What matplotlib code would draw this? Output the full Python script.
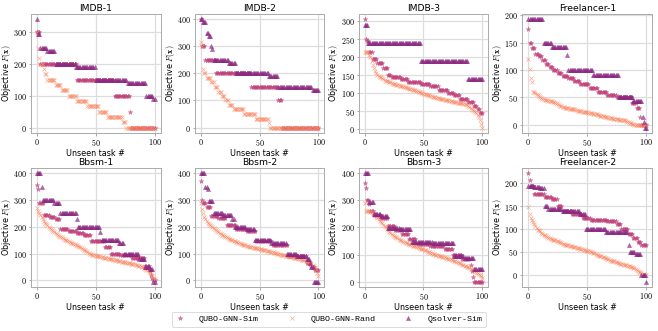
import numpy as np
import matplotlib
matplotlib.use("Agg")
import matplotlib.pyplot as plt
from matplotlib.ticker import FuncFormatter

plt.rcParams['mathtext.fontset'] = 'cm'
plt.rcParams['font.family'] = ['DejaVu Sans']

# runs are (value, how many tasks in a row); plain lists are one value per task
names = ['IMDB-1', 'IMDB-2', 'IMDB-3', 'Freelancer-1',
         'Bbsm-1', 'Bbsm-2', 'Bbsm-3', 'Freelancer-2']
labels = ['QUBO-GNN-Sim', 'QUBO-GNN-Rand', 'Qsolver-Sim']

imdb1_sim = [(300, 3), (200, 31), (150, 32), (100, 13), (50, 1), (0, 21)]
imdb1_rand = [(300, 1), (250, 1), (217, 1), (200, 3), (183, 1), (167, 2), (150, 7), (133, 5),
              (117, 6), (100, 7), (83, 9), (67, 10), (50, 7), (33, 13), (17, 3), (0, 25)]
imdb1_qsolver = [(340, 1), (295, 2), (250, 6), (240, 7), (200, 17), (190, 17), (150, 27),
                 (140, 16), (100, 6), (90, 2)]

imdb2_sim = [(400, 1), (300, 3), (250, 9), (200, 30), (150, 23), (100, 3), (0, 32)]
imdb2_rand = [(316, 1), (300, 1), (217, 1), (200, 2), (183, 4), (167, 3), (150, 3), (133, 3),
              (117, 3), (100, 3), (83, 4), (67, 9), (50, 10), (33, 11), (17, 1), (0, 42)]
imdb2_qsolver = [(400, 2), (390, 3), (350, 2), (340, 2), (300, 1), (290, 1), (250, 13),
                 (240, 6), (200, 28), (190, 8), (150, 29), (140, 6)]

imdb3_sim = [(305, 1), (250, 1), (245, 2), (215, 3), (195, 4), (185, 5), (170, 4), (150, 3),
             (145, 8), (140, 6), (130, 11), (125, 8), (120, 7), (110, 8), (100, 5), (95, 5),
             (85, 7), (75, 5), (65, 3), (55, 2), (45, 3)]
imdb3_rand = [215, 215, 214, 213, 205, 200, 190, 178, 170, 162,
              156, 152, 149, 146, 144, 141, 139, 137, 135, 134,
              133, 131, 130, 129, 127, 126, 125, 124, 123, 122,
              121, 120, 119, 118, 117, 116, 115, 114, 113, 112,
              111, 110, 109, 108, 107, 105, 104, 103, 101, 100,
              99, 98, 97, 96, 95, 94, 93, 92, 91, 90,
              89, 88, 87, 86, 85, 84, 84, 83, 82, 81,
              81, 80, 79, 78, 78, 77, 76, 75, 75, 74,
              74, 73, 72, 72, 71, 70, 69, 68, 65, 62,
              58, 56, 54, 51, 48, 45, 40, 34, 26, 16, 5]
imdb3_qsolver = [(290, 3), (240, 45), (190, 40), (140, 13)]

free1_sim = [(175, 1), (150, 2), (140, 3), (130, 3), (125, 3), (118, 3), (112, 3), (106, 3),
             (100, 4), (95, 4), (90, 5), (85, 5), (80, 5), (75, 8), (68, 7), (60, 8), (55, 8),
             (50, 13), (40, 4), (30, 3), (15, 1), (0, 5)]
free1_rand = [120, 102, 85, 78, 60, 60, 58, 57, 55, 52,
              50, 49, 48, 47, 46, 46, 45, 44, 44, 43,
              43, 42, 41, 40, 39, 38, 37, 35, 34, 33,
              32, 31, 31, 30, 30, 29, 29, 28, 28, 28,
              27, 27, 26, 26, 25, 25, 24, 24, 23, 23,
              23, 22, 22, 21, 21, 20, 20, 19, 19, 18,
              18, 17, 17, 16, 16, 15, 15, 14, 13, 13,
              12, 12, 11, 11, 10, 10, 10, 9, 9, 9,
              9, 8, 8, 7, 6, 5, 4, 3, 2, 1,
              0, 0, 0, 0, 0, 0, 0, 0, 0, 0, 0]
free1_qsolver = [(193, 13), (150, 7), (142, 13), (128, 1), (100, 21), (92, 22), (50, 12),
                 (43, 8), (15, 1), (5, 1), (-5, 2)]

bbsm1_sim = [(358, 1), (340, 1), (290, 4), (245, 5), (238, 5), (230, 4), (192, 7), (185, 7),
             (178, 6), (168, 6), (145, 12), (125, 5), (100, 8), (95, 10), (85, 11), (52, 4),
             (35, 1), (20, 1), (10, 1), (0, 2)]
bbsm1_rand = [270, 258, 250, 243, 235, 228, 222, 216, 210, 205,
              200, 196, 192, 188, 184, 180, 177, 173, 170, 166,
              163, 160, 158, 155, 152, 150, 148, 146, 143, 141,
              140, 137, 135, 133, 130, 128, 126, 123, 121, 118,
              115, 112, 109, 106, 103, 100, 98, 96, 94, 93,
              92, 91, 90, 89, 88, 87, 86, 85, 84, 83,
              82, 81, 80, 79, 78, 77, 76, 75, 74, 73,
              72, 71, 70, 69, 68, 67, 66, 65, 64, 63,
              62, 61, 60, 59, 58, 57, 55, 54, 52, 50,
              48, 46, 43, 40, 37, 35, 30, 24, 17, 10, 5]
bbsm1_qsolver = [(400, 4), (348, 1), (300, 10), (290, 5), (250, 14), (228, 1), (200, 19),
                 (181, 1), (150, 15), (140, 4), (100, 13), (80, 5), (50, 4), (42, 3), (-5, 2)]

bbsm2_sim = [(370, 1), (300, 1), (290, 3), (275, 4), (240, 6), (232, 7), (205, 8), (192, 9),
             (185, 8), (145, 14), (130, 13), (90, 16), (65, 4), (50, 3), (38, 4)]
bbsm2_rand = [290, 265, 250, 238, 230, 222, 216, 212, 208, 204,
              200, 196, 192, 188, 184, 180, 177, 174, 171, 168,
              165, 162, 160, 158, 156, 154, 152, 150, 148, 146,
              144, 142, 140, 138, 136, 134, 133, 131, 130, 129,
              127, 126, 125, 124, 123, 122, 121, 120, 119, 118,
              117, 116, 115, 114, 113, 112, 111, 110, 109, 107,
              105, 104, 103, 102, 101, 100, 99, 98, 96, 95,
              94, 93, 92, 91, 90, 89, 88, 87, 86, 85,
              84, 83, 82, 81, 80, 78, 77, 75, 74, 72,
              71, 69, 67, 64, 61, 58, 53, 46, 39, 28, 14]
bbsm2_qsolver = [(400, 4), (350, 2), (340, 1), (295, 4), (250, 8), (243, 8), (230, 2),
                 (200, 10), (190, 7), (150, 14), (140, 13), (100, 9), (90, 8), (80, 3),
                 (65, 1), (50, 2), (-5, 5)]

bbsm3_sim = [(366, 1), (347, 1), (300, 2), (288, 1), (262, 3), (245, 6), (235, 6), (205, 6),
             (190, 6), (175, 6), (158, 6), (140, 12), (132, 12), (122, 7), (100, 8), (85, 7),
             (60, 1), (40, 1), (18, 1), (0, 8)]
bbsm3_rand = [290, 262, 261, 260, 259, 258, 256, 254, 250, 246,
              240, 235, 230, 225, 220, 215, 210, 205, 200, 195,
              190, 185, 181, 177, 173, 169, 166, 163, 160, 157,
              154, 152, 150, 148, 146, 144, 142, 140, 139, 137,
              135, 133, 132, 130, 128, 127, 125, 123, 122, 120,
              119, 117, 115, 113, 111, 109, 107, 105, 103, 101,
              100, 99, 97, 96, 95, 93, 92, 91, 89, 88,
              87, 85, 84, 82, 80, 78, 77, 75, 73, 71,
              69, 67, 65, 63, 61, 59, 57, 55, 53, 51,
              48, 46, 43, 40, 36, 33, 30, 27, 23, 19, 15]
bbsm3_qsolver = [(400, 4), (295, 4), (248, 6), (242, 6), (197, 10), (193, 10), (148, 18),
                 (142, 18), (95, 9), (88, 8), (48, 8)]

free2_sim = [(222, 1), (207, 1), (195, 3), (177, 9), (170, 6), (165, 5), (150, 4), (140, 8),
             (132, 9), (125, 7), (120, 14), (118, 8), (112, 4), (100, 6), (90, 4), (80, 4),
             (72, 3), (65, 5)]
free2_rand = [148, 133, 125, 120, 115, 110, 106, 102, 99, 97,
              95, 92, 90, 88, 86, 84, 83, 81, 80, 79,
              78, 77, 76, 75, 74, 73, 72, 71, 69, 68,
              67, 66, 66, 65, 64, 63, 63, 62, 61, 60,
              60, 59, 58, 58, 57, 56, 56, 55, 54, 53,
              53, 52, 51, 50, 49, 48, 47, 46, 44, 43,
              42, 41, 40, 39, 38, 37, 36, 35, 34, 32,
              31, 30, 30, 29, 28, 27, 26, 25, 24, 23,
              23, 22, 21, 21, 20, 19, 18, 17, 16, 15,
              14, 13, 11, 9, 7, 5, 3, 2, 1, 0, 0]
free2_qsolver = [(195, 5), (192, 5), (190, 4), (150, 3), (145, 12), (140, 15), (132, 5),
                 (100, 17), (93, 19), (65, 1), (50, 5), (45, 5), (0, 4), (-15, 1)]

panels = [
    (imdb1_sim, imdb1_rand, imdb1_qsolver),
    (imdb2_sim, imdb2_rand, imdb2_qsolver),
    (imdb3_sim, imdb3_rand, imdb3_qsolver),
    (free1_sim, free1_rand, free1_qsolver),
    (bbsm1_sim, bbsm1_rand, bbsm1_qsolver),
    (bbsm2_sim, bbsm2_rand, bbsm2_qsolver),
    (bbsm3_sim, bbsm3_rand, bbsm3_qsolver),
    (free2_sim, free2_rand, free2_qsolver),
]


def expand(s):
    # turn (value, count) runs into one value per task
    if isinstance(s[0], tuple):
        return np.repeat([v for v, n in s], [n for v, n in s])
    return np.array(s)


colors = ['#c2407a', '#fb8761', '#8c2981']
markers = ['*', 'x', '^']
msizes = [3.5, 2.7, 3.1]

fig, axes = plt.subplots(2, 4, figsize=(6.58, 3.31), dpi=100)
fig.subplots_adjust(left=0.047, right=0.991, top=0.958, bottom=0.133,
                    wspace=0.264, hspace=0.294)

math_fmt = FuncFormatter(lambda v, p: r'$%d$' % v)

for ax, name, series in zip(axes.flat, names, panels):
    for s, c, m, ms, lab in zip(series, colors, markers, msizes, labels):
        y = expand(s)
        x = np.arange(len(y))
        ax.plot(x, y, linestyle='', marker=m, markersize=ms, color=c, alpha=0.7,
                markeredgewidth=0.5 if m == 'x' else 0.3, label=lab)
    ax.set_title(name, fontsize=6.7, pad=2)
    ax.set_xlabel('Unseen task #', fontsize=5.8, labelpad=0.5)
    ax.set_ylabel(r'Objective $F(\mathbf{x})$', fontsize=5.8)
    ax.yaxis.set_label_coords(-0.14, 0.5)
    ax.set_xticks([0, 50, 100])
    ax.xaxis.set_major_formatter(math_fmt)
    ax.yaxis.set_major_formatter(math_fmt)
    ax.tick_params(labelsize=5.8, length=1.8, width=0.5, color='#888888', pad=1.3)
    ax.grid(True, color='#dddddd', linewidth=0.9)
    ax.set_axisbelow(True)
    for sp in ax.spines.values():
        sp.set_color('#aaaaaa')
        sp.set_linewidth(0.7)

handles, labs = axes[0, 0].get_legend_handles_labels()
leg = fig.legend(handles, labs, loc='lower center', ncol=3, bbox_to_anchor=(0.5, 0.0),
                 prop={'family': 'Liberation Mono', 'size': 6.0}, frameon=True,
                 handlelength=1.0, handletextpad=1.8, columnspacing=3.4,
                 borderpad=0.45, fancybox=True)
leg.get_frame().set_edgecolor('#cccccc')
leg.get_frame().set_linewidth(0.6)

fig.savefig('out.png', dpi=100)
